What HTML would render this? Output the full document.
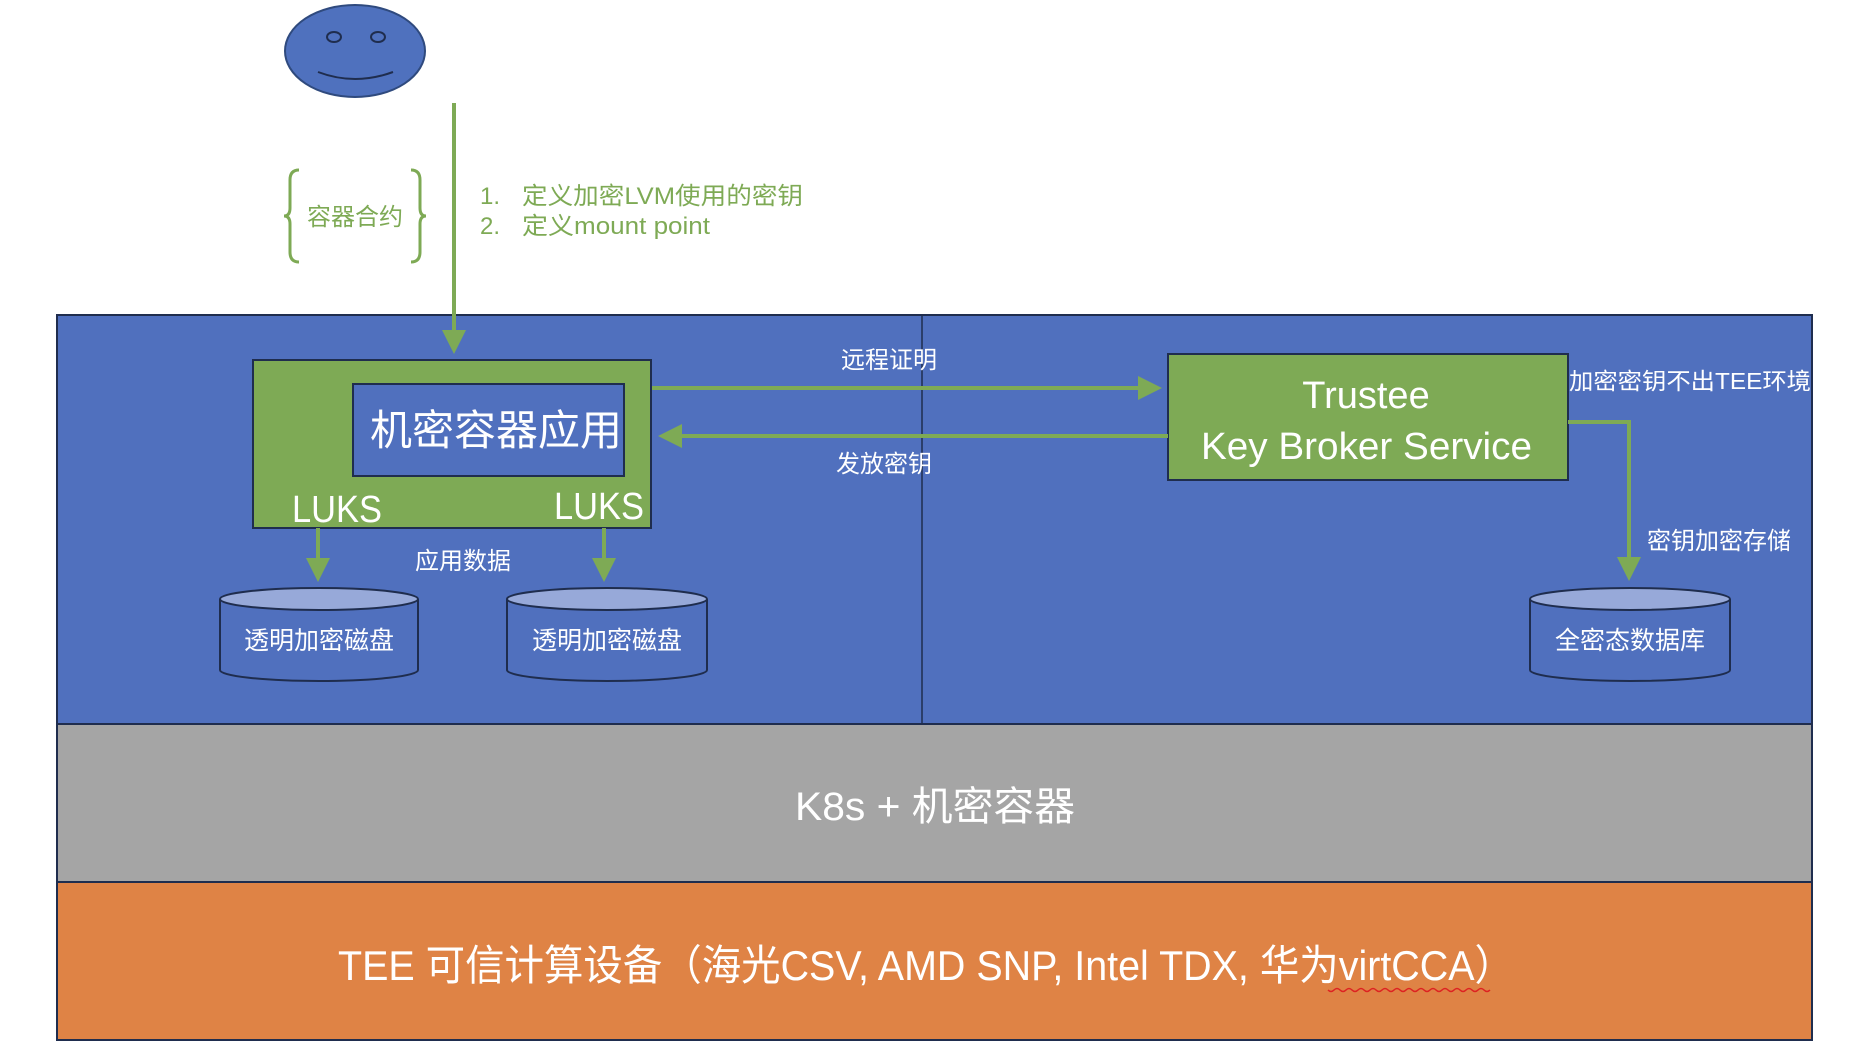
<!DOCTYPE html>
<html><head><meta charset="utf-8"><style>
html,body{margin:0;padding:0;background:#fff;}
svg{display:block;}
text{font-family:"Liberation Sans","Noto Sans CJK SC",sans-serif;fill:#fff;}
</style></head><body>
<svg width="1860" height="1060" viewBox="0 0 1860 1060" xmlns="http://www.w3.org/2000/svg">
<defs>
<marker id="ah" markerWidth="6" markerHeight="6" refX="5" refY="3" orient="auto" markerUnits="strokeWidth">
<path d="M0,0 L6,3 L0,6 z" fill="#7EAA55"/>
</marker>
</defs>
<!-- face -->
<ellipse cx="355" cy="51" rx="70" ry="46" fill="#4F71BE" stroke="#2F4A7E" stroke-width="2"/>
<ellipse cx="334" cy="37" rx="7" ry="5" fill="none" stroke="#1F2D4E" stroke-width="2"/>
<ellipse cx="378" cy="37" rx="7" ry="5" fill="none" stroke="#1F2D4E" stroke-width="2"/>
<path d="M318,72 Q355,86 393,72" fill="none" stroke="#1F2D4E" stroke-width="2"/>
<!-- brace -->
<path d="M299,170 Q290,170 290,180 L290,208 Q290,216 284,216 Q290,216 290,224 L290,252 Q290,262 299,262" fill="none" stroke="#7EAA55" stroke-width="3"/>
<path d="M411,170 Q420,170 420,180 L420,208 Q420,216 426,216 Q420,216 420,224 L420,252 Q420,262 411,262" fill="none" stroke="#7EAA55" stroke-width="3"/>
<text x="355" y="225" text-anchor="middle" font-size="24" style="fill:#7EAA55">容器合约</text>
<text x="480" y="204" font-size="24" style="fill:#7EAA55">1.</text>
<text x="522" y="204" font-size="24" style="fill:#7EAA55" textLength="281" lengthAdjust="spacingAndGlyphs">定义加密LVM使用的密钥</text>
<text x="480" y="234" font-size="24" style="fill:#7EAA55">2.</text>
<text x="522" y="234" font-size="24" style="fill:#7EAA55" textLength="188" lengthAdjust="spacingAndGlyphs">定义mount point</text>
<!-- layers -->
<rect x="57" y="315" width="1755" height="409" fill="#5070BE" stroke="#1F2D4E" stroke-width="2"/>
<line x1="922" y1="315" x2="922" y2="724" stroke="#1F2D4E" stroke-width="1.5"/>
<rect x="57" y="724" width="1755" height="158" fill="#A5A5A5" stroke="#1F2D4E" stroke-width="2"/>
<rect x="57" y="882" width="1755" height="158" fill="#DF8345" stroke="#1F2D4E" stroke-width="2"/>
<text x="795" y="820" font-size="40" textLength="280" lengthAdjust="spacingAndGlyphs">K8s + 机密容器</text>
<text x="338" y="980" font-size="42" textLength="1176" lengthAdjust="spacingAndGlyphs">TEE 可信计算设备（海光CSV, AMD SNP, Intel TDX, 华为virtCCA）</text>
<path d="M1328,990 q3,3 6,0 t6,0 t6,0 t6,0 t6,0 t6,0 t6,0 t6,0 t6,0 t6,0 t6,0 t6,0 t6,0 t6,0 t6,0 t6,0 t6,0 t6,0 t6,0 t6,0 t6,0 t6,0 t6,0 t6,0 t6,0 t6,0 t6,0" fill="none" stroke="#d22" stroke-width="1.5"/>
<!-- vertical arrow -->
<line x1="454" y1="103" x2="454" y2="350" stroke="#7EAA55" stroke-width="4" marker-end="url(#ah)"/>
<!-- app box -->
<rect x="253" y="360" width="398" height="168" fill="#7EAA55" stroke="#1F2D4E" stroke-width="2"/>
<rect x="353" y="384" width="271" height="92" fill="#5070BE" stroke="#1F2D4E" stroke-width="2"/>
<text x="496" y="445" text-anchor="middle" font-size="42">机密容器应用</text>
<text x="292" y="522" font-size="38" textLength="90" lengthAdjust="spacingAndGlyphs">LUKS</text>
<text x="554" y="519" font-size="38" textLength="90" lengthAdjust="spacingAndGlyphs">LUKS</text>
<!-- trustee -->
<rect x="1168" y="354" width="400" height="126" fill="#7EAA55" stroke="#1F2D4E" stroke-width="2"/>
<text x="1366" y="408" text-anchor="middle" font-size="38">Trustee</text>
<text x="1201" y="459" font-size="38" textLength="331" lengthAdjust="spacingAndGlyphs">Key Broker Service</text>
<!-- horizontal arrows -->
<line x1="652" y1="388" x2="1158" y2="388" stroke="#7EAA55" stroke-width="4" marker-end="url(#ah)"/>
<line x1="1168" y1="436" x2="662" y2="436" stroke="#7EAA55" stroke-width="4" marker-end="url(#ah)"/>
<text x="889" y="368" text-anchor="middle" font-size="24">远程证明</text>
<text x="884" y="472" text-anchor="middle" font-size="24">发放密钥</text>
<text x="1569" y="389" font-size="23" textLength="242" lengthAdjust="spacingAndGlyphs">加密密钥不出TEE环境</text>
<polyline points="1568,422 1629,422 1629,577" fill="none" stroke="#7EAA55" stroke-width="4" marker-end="url(#ah)"/>
<text x="1647" y="549" font-size="24">密钥加密存储</text>
<!-- down arrows -->
<line x1="318" y1="528" x2="318" y2="578" stroke="#7EAA55" stroke-width="4" marker-end="url(#ah)"/>
<line x1="604" y1="528" x2="604" y2="578" stroke="#7EAA55" stroke-width="4" marker-end="url(#ah)"/>
<text x="463" y="569" text-anchor="middle" font-size="24">应用数据</text>
<!-- cylinders -->
<g stroke="#1F2D4E" stroke-width="2">
<path d="M220,599 L220,670 A99,11 0 0 0 418,670 L418,599" fill="#5070BE"/>
<ellipse cx="319" cy="599" rx="99" ry="11" fill="#97A9D9"/>
<path d="M507,599 L507,670 A100,11 0 0 0 707,670 L707,599" fill="#5070BE"/>
<ellipse cx="607" cy="599" rx="100" ry="11" fill="#97A9D9"/>
<path d="M1530,599 L1530,670 A100,11 0 0 0 1730,670 L1730,599" fill="#5070BE"/>
<ellipse cx="1630" cy="599" rx="100" ry="11" fill="#97A9D9"/>
</g>
<text x="319" y="649" text-anchor="middle" font-size="25">透明加密磁盘</text>
<text x="607" y="649" text-anchor="middle" font-size="25">透明加密磁盘</text>
<text x="1630" y="649" text-anchor="middle" font-size="25">全密态数据库</text>
</svg>
</body></html>
